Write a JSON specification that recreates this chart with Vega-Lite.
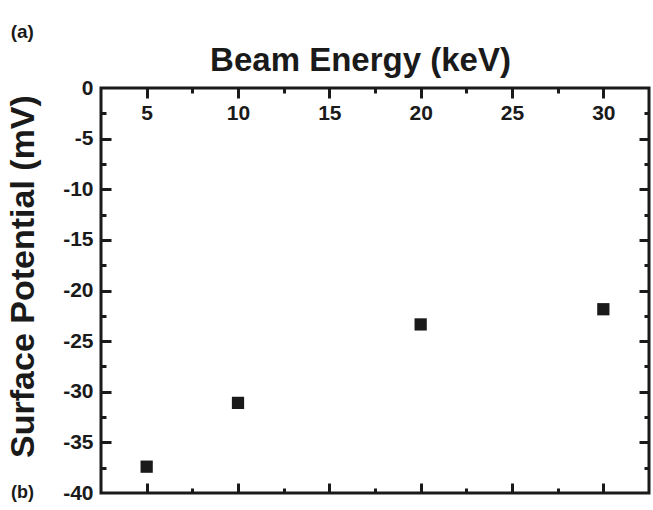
{
  "$schema": "https://vega.github.io/schema/vega-lite/v6.json",
  "width": 548,
  "height": 405,
  "autosize": "none",
  "padding": {"left": 101, "top": 88, "right": 4, "bottom": 17},
  "config": {
    "font": "Liberation Sans",
    "view": {"stroke": "#1a1a1a", "strokeWidth": 3},
    "axis": {
      "grid": false,
      "domain": false,
      "tickColor": "#1a1a1a",
      "tickWidth": 3,
      "labelColor": "#1a1a1a",
      "labelFont": "Liberation Sans",
      "labelFontWeight": "bold",
      "labelFontSize": 21,
      "labelOverlap": false,
      "titleColor": "#1a1a1a",
      "titleFont": "Liberation Sans",
      "titleFontWeight": "bold",
      "titleFontSize": 33
    },
    "title": {"font": "Liberation Sans", "fontSize": 19, "fontWeight": "bold", "color": "#1a1a1a"}
  },
  "title": {"text": "(a)", "anchor": "start", "frame": "bounds", "offset": 2, "dx": 4},
  "data": {
    "values": [
      {"energy": 5, "potential": -37.4},
      {"energy": 10, "potential": -31.1},
      {"energy": 20, "potential": -23.35},
      {"energy": 30, "potential": -21.85}
    ]
  },
  "resolve": {"axis": {"x": "independent", "y": "independent"}},
  "layer": [
    {
      "mark": {"type": "square", "size": 150, "color": "#1a1a1a", "opacity": 1},
      "encoding": {
        "x": {
          "field": "energy", "type": "quantitative",
          "scale": {"domain": [2.5, 32.5], "nice": false, "zero": false},
          "axis": {"orient": "bottom", "offset": -405, "values": [5, 10, 15, 20, 25, 30], "tickSize": 10, "labelPadding": 4, "labelBaseline": "top", "labelExpr": "'' + datum.value", "title": null}
        },
        "y": {
          "field": "potential", "type": "quantitative",
          "scale": {"domain": [-40, 0], "nice": false, "zero": false},
          "axis": {"orient": "left", "values": [0, -5, -10, -15, -20, -25, -30, -35, -40], "ticks": false, "labelPadding": 8, "labelExpr": "'' + datum.value", "title": "Surface Potential (mV)", "titlePadding": 22, "titleFontSize": 34, "titleY": 188}
        }
      }
    },
    {
      "mark": {"type": "square", "size": 150, "opacity": 0},
      "encoding": {
        "x": {
          "field": "energy", "type": "quantitative",
          "scale": {"domain": [2.5, 32.5], "nice": false, "zero": false},
          "axis": {"orient": "top", "labels": false, "ticks": false, "title": "Beam Energy (keV)", "titlePadding": 11, "titleX": 259}
        },
        "y": {
          "field": "potential", "type": "quantitative",
          "scale": {"domain": [-40, 0], "nice": false, "zero": false},
          "axis": {"orient": "left", "values": [-5, -10, -15, -20, -25, -30, -35], "tickSize": -10, "labels": false, "title": null}
        }
      }
    },
    {
      "mark": {"type": "square", "size": 150, "opacity": 0},
      "encoding": {
        "x": {
          "field": "energy", "type": "quantitative",
          "scale": {"domain": [2.5, 32.5], "nice": false, "zero": false},
          "axis": {"orient": "bottom", "values": [5, 10, 15, 20, 25, 30], "tickSize": -10, "labels": false, "title": null}
        },
        "y": {
          "field": "potential", "type": "quantitative",
          "scale": {"domain": [-40, 0], "nice": false, "zero": false},
          "axis": {"orient": "right", "values": [-5, -10, -15, -20, -25, -30, -35], "tickSize": -10, "labels": false, "title": null}
        }
      }
    },
    {
      "mark": {"type": "square", "size": 150, "opacity": 0},
      "encoding": {
        "x": {
          "field": "energy", "type": "quantitative",
          "scale": {"domain": [2.5, 32.5], "nice": false, "zero": false},
          "axis": {"orient": "bottom", "offset": -405, "values": [7.5, 12.5, 17.5, 22.5, 27.5], "tickSize": 5, "labels": false, "title": null}
        },
        "y": {
          "field": "potential", "type": "quantitative",
          "scale": {"domain": [-40, 0], "nice": false, "zero": false},
          "axis": {"orient": "left", "values": [-2.5, -7.5, -12.5, -17.5, -22.5, -27.5, -32.5, -37.5], "tickSize": -5, "labels": false, "title": null}
        }
      }
    },
    {
      "mark": {"type": "square", "size": 150, "opacity": 0},
      "encoding": {
        "x": {
          "field": "energy", "type": "quantitative",
          "scale": {"domain": [2.5, 32.5], "nice": false, "zero": false},
          "axis": {"orient": "bottom", "values": [7.5, 12.5, 17.5, 22.5, 27.5], "tickSize": -5, "labels": false, "title": null}
        },
        "y": {
          "field": "potential", "type": "quantitative",
          "scale": {"domain": [-40, 0], "nice": false, "zero": false},
          "axis": {"orient": "right", "values": [-2.5, -7.5, -12.5, -17.5, -22.5, -27.5, -32.5, -37.5], "tickSize": -5, "labels": false, "title": null}
        }
      }
    },
    {
      "data": {"values": [{"label": "(b)"}]},
      "mark": {"type": "text", "fontSize": 18, "fontWeight": "bold", "color": "#1a1a1a", "clip": false},
      "encoding": {
        "x": {"datum": -1.8, "type": "quantitative", "scale": {"domain": [2.5, 32.5], "nice": false, "zero": false}, "axis": null},
        "y": {"datum": -40, "type": "quantitative", "scale": {"domain": [-40, 0], "nice": false, "zero": false}, "axis": null},
        "text": {"field": "label"}
      }
    }
  ]
}
